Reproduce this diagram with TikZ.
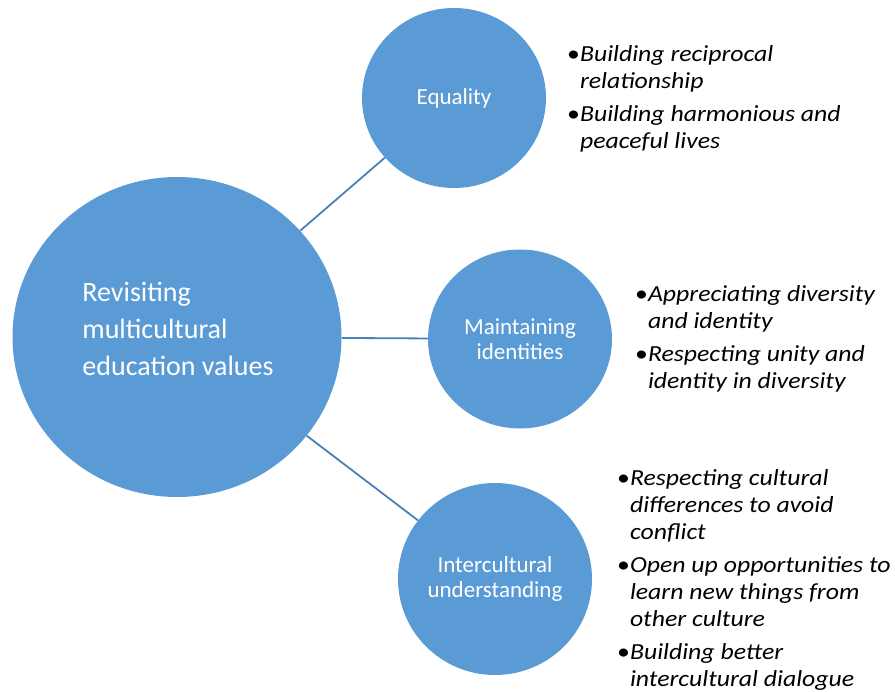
\documentclass[tikz,border=0pt]{standalone}
\usepackage{fontspec}
\setmainfont{Carlito}
\newfontfamily\listfont{Carlito}[FakeStretch=1.12]
\usetikzlibrary{shapes.geometric}

\definecolor{valueblue}{RGB}{91,155,213}
\definecolor{linkblue}{RGB}{74,128,186}

\tikzset{
  value/.style={ellipse,fill=valueblue,text=white,inner sep=0pt,align=center,
    font=\fontsize{23}{25}\selectfont},
  link/.style={draw=linkblue,line width=1.8pt},
  points/.style={anchor=base west,inner sep=0pt,
    font=\listfont\fontsize{23}{27}\selectfont\itshape}
}
\newcommand{\dotmark}{{\upshape\textbullet}}

\begin{document}
\begin{tikzpicture}[x=1pt,y=-1pt]
\useasboundingbox (0,0) rectangle (895,692);

\node[value,minimum width=329pt,minimum height=320pt] (core) at (177,337) {};
\node[text=white,align=left,font=\fontsize{28}{37}\selectfont] (coretext) at (178,329)
  {Revisiting\\multicultural\\education values};

\node[value,minimum width=184pt,minimum height=180pt] (equal) at (454,98) {Equality};
\node[value,minimum width=184pt,minimum height=179pt] (ident) at (520,339) {Maintaining\\identities};
\node[value,minimum width=194pt,minimum height=192pt] (inter) at (495,579) {Intercultural\\understanding};

\draw[link] (core) -- (equal);
\draw[link] (core) -- (ident);
\draw[link] (core) -- (inter);

\node[points] (equallist) at (567,62) {\begin{tabular}[t]{@{}l@{}l@{}}
\dotmark & Building reciprocal\\
 & relationship\\[6pt]
\dotmark & Building harmonious and\\
 & peaceful lives
\end{tabular}};

\node[points] (identlist) at (635,302) {\begin{tabular}[t]{@{}l@{}l@{}}
\dotmark & Appreciating diversity\\
 & and identity\\[6pt]
\dotmark & Respecting unity and\\
 & identity in diversity
\end{tabular}};

\node[points] (interlist) at (617,486) {\begin{tabular}[t]{@{}l@{}l@{}}
\dotmark & Respecting cultural\\
 & differences to avoid\\
 & conflict\\[6pt]
\dotmark & Open up opportunities to\\
 & learn new things from\\
 & other culture\\[6pt]
\dotmark & Building better\\
 & intercultural dialogue
\end{tabular}};
\end{tikzpicture}
\end{document}
